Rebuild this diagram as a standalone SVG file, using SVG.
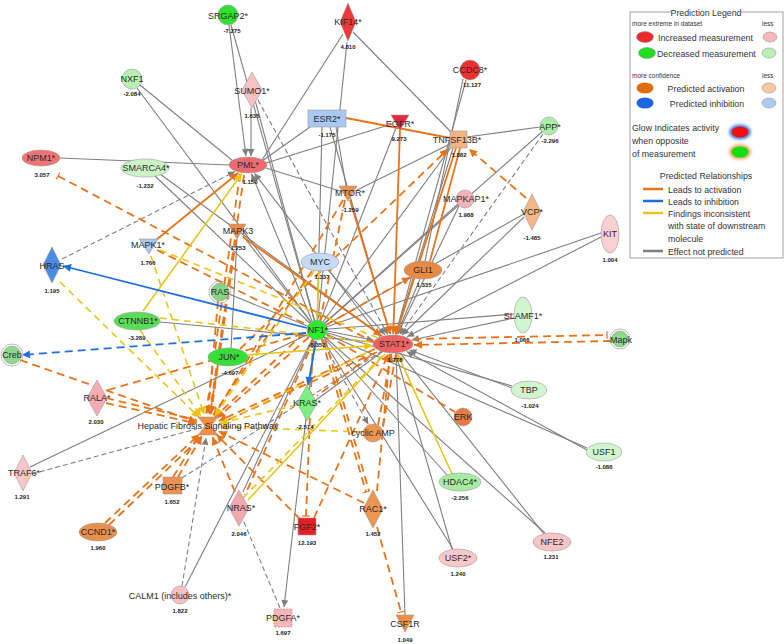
<svg xmlns="http://www.w3.org/2000/svg" width="784" height="644" viewBox="0 0 784 644">
<defs>
<style>
.g{stroke:#7f7f7f;stroke-width:1.1;fill:none}
.gd{stroke:#7f7f7f;stroke-width:1.1;stroke-dasharray:5 3;fill:none}
.o{stroke:#e8731a;stroke-width:1.8;fill:none}
.od{stroke:#e8731a;stroke-width:1.8;stroke-dasharray:8 5;fill:none}
.y{stroke:#e8c51c;stroke-width:1.6;fill:none}
.yd{stroke:#e8c51c;stroke-width:1.6;stroke-dasharray:7 5;fill:none}
.b{stroke:#1f6fe0;stroke-width:1.8;fill:none}
.bd{stroke:#1f6fe0;stroke-width:1.8;stroke-dasharray:8 5;fill:none}
.nd{stroke:#9a9a9a;stroke-width:0.6}
.lb{font-family:"Liberation Sans",Arial,sans-serif;font-size:9px;fill:#2a2a2a;text-anchor:middle;dominant-baseline:central}
.v{font-family:"Liberation Sans",Arial,sans-serif;font-size:6px;font-weight:bold;fill:#222;text-anchor:middle}
.lg{font-family:"Liberation Sans",Arial,sans-serif;font-size:8.8px;fill:#333}
.sm{font-family:"Liberation Sans",Arial,sans-serif;font-size:6.5px;fill:#333}
</style>
<marker id="ag" viewBox="0 0 10 10" refX="10" refY="5" markerWidth="8" markerHeight="7" markerUnits="userSpaceOnUse" orient="auto"><path d="M0,0L10,5L0,10z" fill="#7f7f7f"/></marker>
<marker id="ao" viewBox="0 0 10 10" refX="10" refY="5" markerWidth="9" markerHeight="8" markerUnits="userSpaceOnUse" orient="auto"><path d="M0,0L10,5L0,10z" fill="#e8731a"/></marker>
<marker id="ay" viewBox="0 0 10 10" refX="10" refY="5" markerWidth="9" markerHeight="8" markerUnits="userSpaceOnUse" orient="auto"><path d="M0,0L10,5L0,10z" fill="#eac41a"/></marker>
<marker id="ab" viewBox="0 0 10 10" refX="10" refY="5" markerWidth="9" markerHeight="8" markerUnits="userSpaceOnUse" orient="auto"><path d="M0,0L10,5L0,10z" fill="#1f6fe0"/></marker>
<marker id="to" viewBox="0 0 4 10" refX="2" refY="5" markerWidth="3" markerHeight="8" markerUnits="userSpaceOnUse" orient="auto"><path d="M2,0V10" stroke="#e8731a" stroke-width="1.6"/></marker>
<filter id="gl" x="-50%" y="-50%" width="200%" height="200%"><feGaussianBlur stdDeviation="1.6"/></filter>
</defs>
<rect width="784" height="644" fill="#ffffff"/>

<g id="connectors">
<!-- gray solid -->
<line class="g" x1="229" y1="25" x2="246" y2="156" marker-end="url(#ag)"/>
<line class="g" x1="231" y1="25" x2="317" y2="330"/>
<line class="g" x1="140" y1="85" x2="233" y2="161"/>
<line class="g" x1="137" y1="88" x2="317" y2="330"/>
<line class="g" x1="60" y1="158" x2="229" y2="165"/>
<line class="g" x1="155" y1="176" x2="317" y2="330"/>
<line class="g" x1="160" y1="174" x2="393" y2="344"/>
<line class="g" x1="343" y1="34" x2="262" y2="160"/>
<line class="g" x1="347" y1="42" x2="318" y2="319" marker-end="url(#ag)"/>
<line class="g" x1="353" y1="32" x2="452" y2="133"/>
<line class="g" x1="251" y1="108" x2="251" y2="156" marker-end="url(#ag)"/>
<line class="g" x1="255" y1="100" x2="317" y2="330"/>
<line class="g" x1="310" y1="127" x2="262" y2="161"/>
<line class="g" x1="322" y1="127" x2="317" y2="330"/>
<line class="g" x1="330" y1="127" x2="390" y2="334" marker-end="url(#ag)"/>
<line class="g" x1="336" y1="127" x2="346" y2="186"/>
<line class="g" x1="392" y1="124" x2="266" y2="163"/>
<line class="g" x1="396" y1="128" x2="317" y2="330"/>
<line class="g" x1="467" y1="137" x2="540" y2="127"/>
<line class="g" x1="450" y1="144" x2="357" y2="190"/>
<line class="g" x1="453" y1="148" x2="393" y2="344"/>
<line class="g" x1="452" y1="146" x2="317" y2="330"/>
<line class="g" x1="340" y1="191" x2="266" y2="168"/>
<line class="g" x1="466" y1="80" x2="395.7" y2="334" marker-end="url(#ag)"/>
<line class="g" x1="463" y1="79" x2="425" y2="261"/>
<line class="g" x1="543" y1="131" x2="317" y2="330"/>
<line class="g" x1="458" y1="204" x2="317" y2="330"/>
<line class="g" x1="459" y1="206" x2="397.6" y2="334.3" marker-end="url(#ag)"/>
<line class="g" x1="524" y1="214" x2="317" y2="330"/>
<line class="g" x1="524" y1="217" x2="402" y2="335" marker-end="url(#ag)"/>
<line class="g" x1="601" y1="233" x2="317" y2="330"/>
<line class="g" x1="601" y1="237" x2="407" y2="336.7" marker-end="url(#ag)"/>
<line class="g" x1="514" y1="318" x2="412" y2="340" marker-end="url(#ag)"/>
<line class="g" x1="514" y1="314" x2="317" y2="330"/>
<line class="g" x1="512" y1="388" x2="409.4" y2="350.1" marker-end="url(#ag)"/>
<line class="g" x1="512" y1="386" x2="317" y2="330"/>
<line class="g" x1="587" y1="450" x2="406.6" y2="351.4" marker-end="url(#ag)"/>
<line class="g" x1="587" y1="448" x2="317" y2="330"/>
<line class="g" x1="544" y1="534" x2="400.3" y2="353.2"/>
<line class="g" x1="545" y1="533" x2="317" y2="330"/>
<line class="g" x1="452" y1="549" x2="395.9" y2="354"/>
<line class="g" x1="453" y1="549" x2="317" y2="330"/>
<line class="g" x1="448" y1="476" x2="317" y2="330"/>
<line class="g" x1="405" y1="615" x2="396" y2="353"/>
<line class="g" x1="315" y1="341" x2="284" y2="607" marker-end="url(#ag)"/>
<line class="g" x1="185" y1="587" x2="317" y2="330"/>
<line class="g" x1="243" y1="492" x2="317" y2="330"/>
<line class="g" x1="30" y1="467" x2="317" y2="330"/>
<line class="g" x1="160" y1="322" x2="393" y2="344"/>
<line class="g" x1="231" y1="348" x2="237" y2="239"/>
<line class="g" x1="229" y1="294" x2="317" y2="330"/>
<line class="g" x1="328" y1="270" x2="385" y2="334.8" marker-end="url(#ag)"/>
<line class="g" x1="420" y1="279" x2="397.1" y2="334" marker-end="url(#ag)"/>
<line class="g" x1="327" y1="331" x2="373.7" y2="340.2" marker-end="url(#ag)"/>
<line class="g" x1="312" y1="321" x2="251.6" y2="173.8" marker-end="url(#ag)"/>
<line class="g" x1="380" y1="337" x2="254.5" y2="173.4" marker-end="url(#ag)"/>
<line class="g" x1="316" y1="400" x2="393" y2="344"/>
<line class="g" x1="243" y1="236" x2="317" y2="330"/>
<!-- gray dashed -->
<line class="gd" x1="62" y1="259" x2="235" y2="171.6" marker-end="url(#ag)"/>
<line class="gd" x1="258" y1="100" x2="387.7" y2="334.4" marker-end="url(#ag)"/>
<line class="gd" x1="543" y1="134" x2="399.7" y2="334.6" marker-end="url(#ag)"/>
<line class="gd" x1="321" y1="339" x2="368.2" y2="424.2" marker-end="url(#ag)"/>
<line class="gd" x1="244" y1="522" x2="280" y2="608"/>
<line class="gd" x1="182" y1="586" x2="206.1" y2="437.8" marker-end="url(#ag)"/>
<line class="gd" x1="32" y1="474" x2="196.4" y2="428.9"/>
<line class="gd" x1="182" y1="478" x2="393" y2="344"/>
<!-- orange solid -->
<line class="o" x1="346" y1="118" x2="450" y2="138"/>
<line class="o" x1="400" y1="129" x2="393.3" y2="334" marker-end="url(#ao)"/>
<line class="o" x1="456" y1="148" x2="396.2" y2="334.1" marker-end="url(#ao)"/>
<line class="o" x1="460" y1="148" x2="430" y2="261"/>
<line class="o" x1="156" y1="240" x2="238.4" y2="172.8" marker-end="url(#ao)"/>
<line class="o" x1="243" y1="237" x2="381.5" y2="335.8" marker-end="url(#ao)"/>
<line class="o" x1="350" y1="200" x2="390.1" y2="334.1" marker-end="url(#ao)"/>
<!-- orange dashed -->
<line class="od" x1="58" y1="176" x2="375" y2="343" marker-start="url(#to)"/>
<line class="od" x1="526" y1="198" x2="469" y2="149" marker-end="url(#ao)"/>
<line class="od" x1="240" y1="349" x2="448" y2="149" marker-end="url(#ao)"/>
<line class="od" x1="343" y1="200" x2="214.2" y2="415.7" marker-end="url(#ao)"/>
<line class="od" x1="345" y1="200" x2="320" y2="321"/>
<line class="od" x1="244" y1="175" x2="209.7" y2="414.1" marker-end="url(#ao)"/>
<line class="od" x1="240" y1="174" x2="206" y2="414"/>
<line class="od" x1="236" y1="240" x2="211" y2="414" marker-end="url(#ao)"/>
<line class="od" x1="218" y1="301" x2="208" y2="414" marker-end="url(#ao)"/>
<line class="od" x1="326" y1="325" x2="410" y2="277.4" marker-end="url(#ao)"/>
<line class="od" x1="309" y1="337" x2="217" y2="418.1" marker-end="url(#ao)"/>
<line class="od" x1="304" y1="333" x2="215" y2="417"/>
<line class="od" x1="375" y1="349" x2="218.9" y2="421" marker-end="url(#ao)"/>
<line class="od" x1="377" y1="352" x2="219" y2="424"/>
<line class="od" x1="611" y1="341" x2="414" y2="345" marker-end="url(#ao)"/>
<line class="od" x1="413" y1="339" x2="607" y2="335" marker-end="url(#to)"/>
<line class="od" x1="327" y1="335" x2="455" y2="412"/>
<line class="od" x1="378" y1="425" x2="391.2" y2="353.9" marker-end="url(#ao)"/>
<line class="od" x1="383" y1="426" x2="396" y2="354"/>
<line class="od" x1="322" y1="340" x2="366" y2="492" marker-end="url(#to)"/>
<line class="od" x1="325" y1="339" x2="369" y2="491"/>
<line class="od" x1="390" y1="354" x2="377" y2="491"/>
<line class="od" x1="377" y1="527" x2="401" y2="612" marker-end="url(#to)"/>
<line class="od" x1="364" y1="503" x2="218.8" y2="431.3" marker-end="url(#ao)"/>
<line class="od" x1="313" y1="340" x2="306" y2="516" marker-end="url(#to)"/>
<line class="od" x1="314" y1="518" x2="388.6" y2="353.7" marker-end="url(#ao)"/>
<line class="od" x1="300" y1="519" x2="216.4" y2="434.5" marker-end="url(#ao)"/>
<line class="od" x1="235" y1="492" x2="212.5" y2="437.1" marker-end="url(#ao)"/>
<line class="od" x1="314" y1="340" x2="245" y2="495"/>
<line class="od" x1="178" y1="477" x2="201.9" y2="436.3" marker-end="url(#ao)"/>
<line class="od" x1="173" y1="477" x2="199" y2="435"/>
<line class="od" x1="105" y1="523" x2="199.3" y2="434.2" marker-end="url(#ao)"/>
<line class="od" x1="109" y1="525" x2="202" y2="436" marker-end="url(#ao)"/>
<line class="od" x1="106" y1="403" x2="196.3" y2="423.4" marker-end="url(#ao)"/>
<line class="od" x1="106" y1="398" x2="197" y2="420"/>
<line class="od" x1="108" y1="390" x2="317" y2="330"/>
<line class="od" x1="20" y1="360" x2="196.7" y2="422" marker-end="url(#ao)"/>
<line class="od" x1="218" y1="364" x2="209.9" y2="414.2" marker-end="url(#ao)"/>
<line class="od" x1="312" y1="271" x2="213" y2="415"/>
<line class="od" x1="157" y1="250" x2="317" y2="330"/>
<line class="od" x1="370" y1="356" x2="317" y2="396"/>
<!-- yellow -->
<line class="y" x1="143" y1="311" x2="241.9" y2="173.5" marker-end="url(#ay)"/>
<line class="y" x1="452" y1="474" x2="397.4" y2="353.7" marker-end="url(#ay)"/>
<line class="y" x1="319" y1="271" x2="317" y2="319"/>
<line class="y" x1="248" y1="355" x2="372.3" y2="345.6" marker-end="url(#ay)"/>
<line class="y" x1="248" y1="500" x2="385" y2="354"/>
<line class="yd" x1="60" y1="282" x2="199.4" y2="417.6" marker-end="url(#ay)"/>
<line class="yd" x1="151" y1="256" x2="204.2" y2="414.6" marker-end="url(#ay)"/>
<line class="yd" x1="140" y1="330" x2="201.1" y2="416.2" marker-end="url(#ay)"/>
<line class="yd" x1="314" y1="271" x2="214.8" y2="416.1" marker-end="url(#ay)"/>
<line class="yd" x1="297" y1="405" x2="219.7" y2="423.2" marker-end="url(#ay)"/>
<line class="yd" x1="362" y1="432" x2="220" y2="426.5" marker-end="url(#ay)"/>
<line class="yd" x1="160" y1="250" x2="393" y2="344"/>
<line class="yd" x1="160" y1="318" x2="372" y2="342"/>
<line class="yd" x1="243" y1="498" x2="385" y2="353"/>
<line class="yd" x1="220" y1="424" x2="372" y2="350"/>
<!-- blue -->
<line class="b" x1="307" y1="328" x2="63" y2="266" marker-end="url(#ab)"/>
<line class="bd" x1="306" y1="333" x2="22" y2="355" marker-end="url(#ab)"/>
<line class="b" x1="316" y1="341" x2="308" y2="385" marker-end="url(#ab)"/>
</g>

<g id="n-SRGAP2"><circle class="nd" cx="228" cy="15" r="10" fill="#2fe02f"/><text class="lb" x="228" y="16">SRGAP2*</text><text class="v" x="232" y="33">-7.275</text></g>
<g id="n-KIF14"><path class="nd" d="M348,3L356,22L348,41L340,22Z" fill="#ec3a3a"/><text class="lb" x="348" y="22">KIF14*</text><text class="v" x="348" y="49">4.810</text></g>
<g id="n-CCDC8"><circle class="nd" cx="470" cy="70" r="10" fill="#ec2f2f"/><text class="lb" x="470" y="70">CCDC8*</text><text class="v" x="472" y="87">11.127</text></g>
<g id="n-NXF1"><circle class="nd" cx="132" cy="79" r="10" fill="#b7f0b2"/><text class="lb" x="132" y="79">NXF1</text><text class="v" x="132" y="96">-2.084</text></g>
<g id="n-SUMO1"><path class="nd" d="M252,72L262,90L252,108L242,90Z" fill="#f8c1c4"/><text class="lb" x="252" y="91">SUMO1*</text><text class="v" x="252" y="118">1.635</text></g>
<g id="n-ESR2"><rect class="nd" x="308" y="110" width="38" height="17" fill="#a9c9f3"/><text class="lb" x="327" y="119">ESR2*</text><text class="v" x="327" y="137">-1.175</text></g>
<g id="n-EGFR"><polygon class="nd" points="391,115 409,115 400,130" fill="#e6283a"/><text class="lb" x="400" y="124">EGFR*</text><text class="v" x="399" y="141">9.273</text></g>
<g id="n-TNFSF13B"><rect class="nd" x="450" y="131" width="17" height="17" fill="#f5b384"/><text class="lb" x="457" y="140">TNFSF13B*</text><text class="v" x="459" y="157">1.882</text></g>
<g id="n-APP"><circle class="nd" cx="549" cy="126" r="9" fill="#a8f0a5"/><text class="lb" x="550" y="127">APP*</text><text class="v" x="550" y="143">-2.296</text></g>
<g id="n-NPM1"><ellipse class="nd" cx="41" cy="158" rx="19" ry="8" fill="#f27474"/><text class="lb" x="41" y="158">NPM1*</text><text class="v" x="42" y="177">3.057</text></g>
<g id="n-SMARCA4"><ellipse class="nd" cx="145" cy="168" rx="24" ry="9" fill="#cbf5c7"/><text class="lb" x="146" y="168">SMARCA4*</text><text class="v" x="145" y="188">-1.232</text></g>
<g id="n-PML"><ellipse class="nd" cx="248" cy="165" rx="19" ry="8" fill="#f06a6e"/><text class="lb" x="248" y="165">PML*</text><text class="v" x="250" y="184">1.150</text></g>
<g id="n-MTOR"><polygon class="nd" points="339,186 357,186 348,201" fill="#ef9249"/><text class="lb" x="350" y="193">MTOR*</text><text class="v" x="350" y="212">-1.259</text></g>
<g id="n-MAPKAP1"><circle class="nd" cx="465" cy="199" r="9" fill="#f5b2b7"/><text class="lb" x="466" y="199">MAPKAP1*</text><text class="v" x="466" y="217">1.988</text></g>
<g id="n-VCP"><path class="nd" d="M532,194L541,212L532,230L523,212Z" fill="#f5b786"/><text class="lb" x="532" y="212">VCP*</text><text class="v" x="532" y="240">-1.485</text></g>
<g id="n-MAPK1"><polygon class="nd" points="139,239 158,239 149,254" fill="#a9c7f0"/><text class="lb" x="148" y="245">MAPK1*</text><text class="v" x="148" y="265">1.766</text></g>
<g id="n-MAPK3"><polygon class="nd" points="228,224 246,224 237,239" fill="#ee8a45"/><text class="lb" x="238" y="231">MAPK3</text><text class="v" x="238" y="250">1.253</text></g>
<g id="n-HRAS"><path class="nd" d="M52,247L61,265L52,283L43,265Z" fill="#4a8be6"/><text class="lb" x="52" y="266">HRAS</text><text class="v" x="52" y="293">1.195</text></g>
<g id="n-MYC"><ellipse class="nd" cx="320" cy="262" rx="19" ry="9" fill="#c4daf6"/><text class="lb" x="320" y="262">MYC</text><text class="v" x="322" y="279">1.337</text></g>
<g id="n-GLI1"><ellipse class="nd" cx="423" cy="270" rx="19" ry="9" fill="#e98a44"/><text class="lb" x="423" y="270">GLI1</text><text class="v" x="424" y="287">1.335</text></g>
<g id="n-KIT"><ellipse class="nd" cx="610" cy="234" rx="9" ry="19" fill="#fbd0d2"/><text class="lb" x="610" y="234">KIT</text><text class="v" x="610" y="262">1.004</text></g>
<g id="n-RAS"><circle cx="220" cy="292" r="11" fill="none" stroke="#9a9a9a" stroke-width="0.7"/><circle class="nd" cx="220" cy="292" r="9" fill="#86d486"/><text class="lb" x="220" y="292">RAS</text></g>
<g id="n-SLAMF1"><ellipse class="nd" cx="523" cy="315" rx="9" ry="18" fill="#d0f5cf"/><text class="lb" x="523" y="316">SLAMF1*</text><text class="v" x="522" y="342">1.066</text></g>
<g id="n-CTNNB1"><ellipse class="nd" cx="137" cy="321" rx="23" ry="9" fill="#5bdc58"/><text class="lb" x="138" y="321">CTNNB1*</text><text class="v" x="137" y="340">-3.289</text></g>
<g id="n-NF1"><circle class="nd" cx="317" cy="330" r="10" fill="#2ceb2c"/><text class="lb" x="318" y="330">NF1*</text><text class="v" x="317" y="347">-5.353</text></g>
<g id="n-STAT1"><ellipse class="nd" cx="393" cy="344" rx="20" ry="9" fill="#ef6262"/><text class="lb" x="394" y="344">STAT1*</text><text class="v" x="395" y="362">1.778</text></g>
<g id="n-Mapk"><circle cx="620" cy="339" r="10" fill="none" stroke="#9a9a9a" stroke-width="0.7"/><circle class="nd" cx="620" cy="339" r="8" fill="#8fd68f"/><text class="lb" x="621" y="340">Mapk</text></g>
<g id="n-Creb"><circle cx="12" cy="355" r="11" fill="none" stroke="#9a9a9a" stroke-width="0.7"/><circle class="nd" cx="12" cy="355" r="9" fill="#8fd68f"/><text class="lb" x="12" y="355">Creb</text></g>
<g id="n-JUN"><ellipse class="nd" cx="228" cy="357" rx="20" ry="9" fill="#35e035"/><text class="lb" x="229" y="357">JUN*</text><text class="v" x="230" y="375">-4.697</text></g>
<g id="n-TBP"><ellipse class="nd" cx="529" cy="390" rx="18" ry="9" fill="#d2f5d0"/><text class="lb" x="529" y="390">TBP</text><text class="v" x="530" y="408">-1.024</text></g>
<g id="n-KRAS"><path class="nd" d="M307,385L317,403L307,421L297,403Z" fill="#7cef80"/><text class="lb" x="307" y="403">KRAS*</text><text class="v" x="305" y="429">-2.514</text></g>
<g id="n-RALA"><path class="nd" d="M97,380L107,398L97,416L87,398Z" fill="#f6acb1"/><text class="lb" x="97" y="398">RALA*</text><text class="v" x="96" y="424">2.030</text></g>
<g id="n-Hepatic"><polygon class="nd" points="198,417 218,417 211,426 218,435 198,435 205,426" fill="#f09040"/><text class="lb" x="208" y="426">Hepatic Fibrosis Signaling Pathway</text></g>
<g id="n-ERK"><circle class="nd" cx="463" cy="417" r="9" fill="#e57c40"/><text class="lb" x="463" y="417">ERK</text></g>
<g id="n-cAMP"><ellipse class="nd" cx="373" cy="433" rx="10" ry="9" fill="#ee9550"/><text class="lb" x="373" y="433">cyclic AMP</text></g>
<g id="n-USF1"><ellipse class="nd" cx="604" cy="452" rx="18" ry="9" fill="#d2f5d0"/><text class="lb" x="604" y="452">USF1</text><text class="v" x="604" y="469">-1.086</text></g>
<g id="n-HDAC4"><ellipse class="nd" cx="460" cy="482" rx="21" ry="9" fill="#a6eda0"/><text class="lb" x="460" y="482">HDAC4*</text><text class="v" x="460" y="500">-2.256</text></g>
<g id="n-TRAF6"><path class="nd" d="M23,455L32,473L23,491L14,473Z" fill="#f9c5c9"/><text class="lb" x="24" y="473">TRAF6*</text><text class="v" x="22" y="499">1.291</text></g>
<g id="n-PDGFB"><rect class="nd" x="163" y="477" width="19" height="17" fill="#ee9150"/><text class="lb" x="172" y="487">PDGFB*</text><text class="v" x="172" y="504">1.652</text></g>
<g id="n-NRAS"><path class="nd" d="M239,490L249,508L239,526L229,508Z" fill="#f4a8ad"/><text class="lb" x="241" y="508">NRAS*</text><text class="v" x="239" y="536">2.046</text></g>
<g id="n-FGF2"><rect class="nd" x="298" y="518" width="18" height="17" fill="#e81f22"/><text class="lb" x="307" y="527">FGF2*</text><text class="v" x="307" y="545">12.193</text></g>
<g id="n-RAC1"><path class="nd" d="M373,490L383,509L373,528L363,509Z" fill="#ee9550"/><text class="lb" x="373" y="509">RAC1*</text><text class="v" x="373" y="536">1.452</text></g>
<g id="n-CCND1"><ellipse class="nd" cx="98" cy="532" rx="19" ry="9" fill="#e8904e"/><text class="lb" x="98" y="532">CCND1*</text><text class="v" x="98" y="550">1.960</text></g>
<g id="n-USF2"><ellipse class="nd" cx="458" cy="558" rx="19" ry="9" fill="#f9c8ca"/><text class="lb" x="458" y="558">USF2*</text><text class="v" x="458" y="576">1.240</text></g>
<g id="n-NFE2"><ellipse class="nd" cx="552" cy="542" rx="19" ry="9" fill="#f8c4c6"/><text class="lb" x="552" y="542">NFE2</text><text class="v" x="551" y="559">1.231</text></g>
<g id="n-CALM1"><circle class="nd" cx="180" cy="595" r="9" fill="#f8c0c4"/><text class="lb" x="180" y="596">CALM1 (includes others)*</text><text class="v" x="180" y="613">1.822</text></g>
<g id="n-PDGFA"><rect x="274" y="609" width="18" height="18" fill="#f8b6b8" stroke="#c98a8c" stroke-width="0.7" stroke-dasharray="2 1"/><text class="lb" x="283" y="618">PDGFA*</text><text class="v" x="283" y="635">1.697</text></g>
<g id="n-CSF1R"><polygon class="nd" points="396,615 414,615 405,632" fill="#f09040"/><text class="lb" x="405" y="624">CSF1R</text><text class="v" x="405" y="642">1.049</text></g>

<g id="legend">
<rect x="630" y="12" width="153" height="246" fill="#ffffff" stroke="#8a8a8a" stroke-width="0.8"/>
<rect x="671" y="6" width="70" height="12" fill="#ffffff"/>
<text class="lg" x="706" y="16" text-anchor="middle" font-size="9.5">Prediction Legend</text>
<text class="sm" x="632" y="26">more extreme in dataset</text>
<text class="sm" x="762" y="26">less</text>
<ellipse cx="645" cy="37" rx="8.5" ry="5.5" fill="#ee2a2a" stroke="#999" stroke-width="0.6"/>
<text class="lg" x="658" y="40.5">Increased measurement</text>
<ellipse cx="770" cy="37" rx="7" ry="5" fill="#f7b8ba" stroke="#999" stroke-width="0.6"/>
<ellipse cx="647" cy="53" rx="8.5" ry="5.5" fill="#22dd22" stroke="#999" stroke-width="0.6"/>
<text class="lg" x="657" y="56.5">Decreased measurement</text>
<ellipse cx="769" cy="53" rx="7" ry="5" fill="#b8efb5" stroke="#999" stroke-width="0.6"/>
<text class="sm" x="632" y="78">more confidence</text>
<text class="sm" x="762" y="78">less</text>
<ellipse cx="645" cy="88" rx="8.5" ry="5.5" fill="#e06c12"/>
<text class="lg" x="706" y="91.5" text-anchor="middle">Predicted activation</text>
<ellipse cx="769" cy="88" rx="7" ry="5" fill="#f7c8a0" stroke="#999" stroke-width="0.6"/>
<ellipse cx="645" cy="103" rx="8.5" ry="5.5" fill="#1d64e0"/>
<text class="lg" x="707" y="106.5" text-anchor="middle">Predicted inhibition</text>
<ellipse cx="769" cy="103" rx="7" ry="5" fill="#aecbf2" stroke="#999" stroke-width="0.6"/>
<text class="lg" x="632" y="131">Glow Indicates activity</text>
<text class="lg" x="632" y="144">when opposite</text>
<text class="lg" x="632" y="157">of measurement</text>
<ellipse cx="740" cy="132" rx="11" ry="7.5" fill="#3b82f0" filter="url(#gl)"/>
<ellipse cx="740" cy="132" rx="8.5" ry="5.5" fill="#f01010"/>
<ellipse cx="740" cy="152" rx="11" ry="7.5" fill="#f5a060" filter="url(#gl)"/>
<ellipse cx="740" cy="152" rx="8.5" ry="5.5" fill="#10e010"/>
<text class="lg" x="706" y="179" text-anchor="middle" font-size="9.3">Predicted Relationships</text>
<line x1="643" y1="189" x2="663" y2="189" stroke="#e8731a" stroke-width="2.5"/>
<text class="lg" x="668" y="192.5">Leads to activation</text>
<line x1="643" y1="201" x2="663" y2="201" stroke="#1f6fe0" stroke-width="2.5"/>
<text class="lg" x="668" y="204.5">Leads to inhibition</text>
<line x1="643" y1="213" x2="663" y2="213" stroke="#eac41a" stroke-width="2.5"/>
<text class="lg" x="668" y="216.5">Findings inconsistent</text>
<text class="lg" x="668" y="229">with state of downstream</text>
<text class="lg" x="668" y="241.5">molecule</text>
<line x1="643" y1="251" x2="663" y2="251" stroke="#7f7f7f" stroke-width="2.5"/>
<text class="lg" x="668" y="254.5">Effect not predicted</text>
</g>
</svg>
